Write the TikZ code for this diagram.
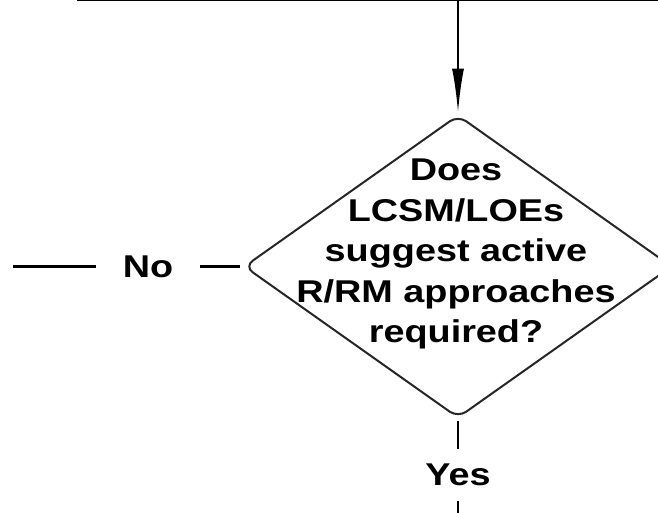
\documentclass[tikz,border=0pt]{standalone}
\usepackage{fontspec}
\setmainfont{Liberation Sans}[FakeStretch=1.2]
\usetikzlibrary{shapes.geometric,arrows.meta}
\begin{document}
\begin{tikzpicture}[x=1pt,y=-1pt,
  flow/.style={line width=2.2pt, draw=black},
  decision/.style={diamond, draw=black!85, line width=2pt, rounded corners=10pt,
    minimum width=427pt, minimum height=302pt, inner sep=0pt, outer sep=0pt},
  txt/.style={font=\fontsize{31.5}{40.5}\selectfont\bfseries, text=black, inner sep=0pt},
]
\useasboundingbox (0,0) rectangle (658,512);
% decision diamond and its question
\node[decision] (dec) at (458,266.5) {};
\node[txt, align=center, anchor=north] (q) at (456,159)
  {Does\\LCSM/LOEs\\suggest active\\R/RM approaches\\required?};
% incoming line along the top
\coordinate (topstart) at (77,0);
\coordinate (topend) at (658,0);
\coordinate (join) at (458,0);
\draw[flow] (topstart) -- (topend);
\draw[flow, -{Latex[length=44pt,width=12pt]}, shorten >=3pt] (join) -- (dec.north);
% "No" branch to the left
\node[txt, inner xsep=27pt] (no) at (148,266.5) {No};
\coordinate (leftend) at (13,266.5);
\draw[flow, shorten <=5pt] (dec.west) -- (no);
\draw[flow] (no) -- (leftend);
% "Yes" branch downwards
\node[txt, inner ysep=14.5pt] (yes) at (458,475) {Yes};
\coordinate (botend) at (458,514);
\draw[flow, shorten <=3pt] (dec.south) -- (yes);
\draw[flow] (yes) -- (botend);
\end{tikzpicture}
\end{document}
